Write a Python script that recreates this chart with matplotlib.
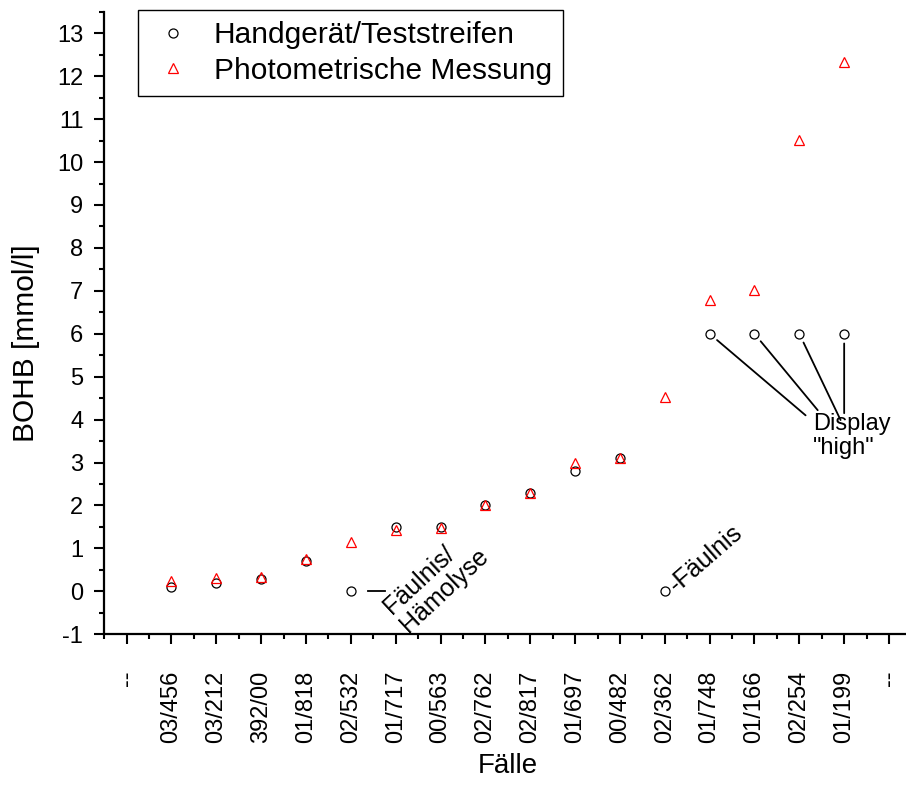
import matplotlib

matplotlib.use("Agg")
import matplotlib.pyplot as plt
from matplotlib.ticker import MultipleLocator

plt.rcParams["font.family"] = ["Liberation Sans", "DejaVu Sans"]
plt.rcParams["axes.unicode_minus"] = False

# cases, with empty placeholder slots at both ends of the axis
cases = ["--", "03/456", "03/212", "392/00", "01/818", "02/532", "01/717",
         "00/563", "02/762", "02/817", "01/697", "00/482", "02/362",
         "01/748", "01/166", "02/254", "01/199", "--"]

# BOHB [mmol/l] per case (without the placeholder slots)
handheld = [0.1, 0.2, 0.28, 0.7, 0.0, 1.5, 1.5, 2.0, 2.3, 2.8, 3.1, 0.0,
            6.0, 6.0, 6.0, 6.0]
photometric = [0.25, 0.3, 0.33, 0.75, 1.14, 1.43, 1.48, 2.02, 2.3, 3.0,
               3.1, 4.53, 6.78, 7.03, 10.52, 12.32]

# cases where the handheld reading is not usable
putrid_idx = [4, 11]
high_idx = [12, 13, 14, 15]

xs = list(range(1, len(handheld) + 1))

fig = plt.figure(figsize=(9.06, 7.85), dpi=100)
ax = fig.add_axes([0.115, 0.192, 0.891, 0.793])

ax.plot(xs, handheld, linestyle="none", marker="o", markersize=6.5,
        markerfacecolor="none", markeredgecolor="black", markeredgewidth=0.9,
        label="Handgerät/Teststreifen")
ax.plot(xs, photometric, linestyle="none", marker="^", markersize=7.5,
        markerfacecolor="none", markeredgecolor="red", markeredgewidth=0.9,
        label="Photometrische Messung")

ax.set_xlim(-0.5, 17.5)
ax.set_ylim(-1, 13.5)

ax.set_xticks(range(len(cases)))
ax.set_xticklabels(cases, rotation=90)
ax.xaxis.set_minor_locator(MultipleLocator(0.5))
ax.yaxis.set_major_locator(MultipleLocator(1))
ax.yaxis.set_minor_locator(MultipleLocator(0.5))

for side in ("top", "right"):
    ax.spines[side].set_visible(False)
for side in ("left", "bottom"):
    ax.spines[side].set_linewidth(1.6)

ax.tick_params(axis="both", which="major", direction="out", length=7,
               width=1.5, labelsize=17)
ax.tick_params(axis="both", which="minor", direction="out", length=3.5,
               width=1.5)
ax.tick_params(axis="x", which="major", pad=19)
ax.tick_params(axis="y", which="major", pad=8)

ax.set_xlabel("Fälle", fontsize=20, labelpad=7)
ax.set_ylabel("BOHB [mmol/l]", fontsize=21.5)
ax.yaxis.set_label_coords(-0.080, 0.468)

# putrefaction notes next to the zero readings
i = putrid_idx[0]
ax.plot([xs[i] + 0.38, xs[i] + 0.76], [handheld[i], handheld[i]],
        color="black", linewidth=1.3)
ax.text(xs[i] + 1.28, handheld[i] - 0.96, "Fäulnis/\nHämolyse", fontsize=18,
        rotation=43, rotation_mode="anchor", ha="left", va="baseline",
        linespacing=1.05)
i = putrid_idx[1]
ax.text(xs[i] + 0.27, handheld[i] - 0.05, "-Fäulnis", fontsize=18,
        rotation=41, rotation_mode="anchor", ha="left", va="baseline")

# leader lines from the capped readings to the "high" note
ends = [(15.14, 4.10), (15.41, 4.22), (15.92, 3.99), (16.0, 4.15)]
for i, end in zip(high_idx, ends):
    ax.annotate("", xy=(xs[i], handheld[i]), xytext=end,
                arrowprops=dict(arrowstyle="-", color="black", lw=1.3,
                                shrinkA=0, shrinkB=7))
ax.text(15.3, 4.15, 'Display\n"high"', fontsize=17, ha="left", va="top",
        linespacing=1.1)

leg = ax.legend(loc="upper left", bbox_to_anchor=(138 / 906, 1 - 10 / 785),
                bbox_transform=fig.transFigure, borderaxespad=0,
                fontsize=21.5, fancybox=False, edgecolor="black",
                framealpha=1, handletextpad=0.55, labelspacing=0.25,
                borderpad=0.38, handlelength=1.6)
leg.get_frame().set_linewidth(1.0)

fig.savefig("out.png", dpi=100)
